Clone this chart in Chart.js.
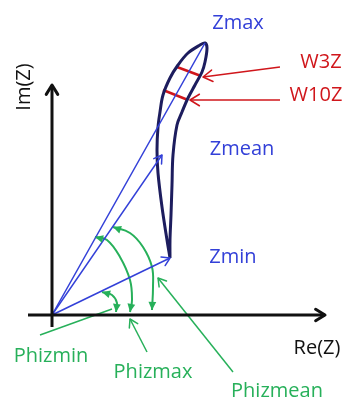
<!DOCTYPE html>
<html>
<head>
<meta charset="utf-8">
<script src="https://cdn.jsdelivr.net/npm/chart.js@4/dist/chart.umd.min.js"></script>
<style>
  html, body { margin: 0; padding: 0; background: #fff; }
  #wrap { width: 348px; height: 399px; }
</style>
</head>
<body>
<div id="wrap"><canvas id="nyquist"></canvas></div>
<script>
// impedance plane, units measured from the origin
const reAxis = [[-24, 0], [273, 0]];
const imAxis = [[0, -12], [0, 230]];

// impedance loop over one cycle: from Zmin up the left side, over Zmax, back down
const loopRe = [118, 115, 110, 106, 105, 106, 108, 111, 118, 126, 136, 148, 153, 155, 153, 150, 143, 136, 130, 125, 121, 120, 119, 118, 118];
const loopIm = [57, 75, 108, 142, 165, 188, 203, 220, 237, 250, 262, 270, 272, 267, 253, 243, 230, 217, 203, 190, 160, 130, 100, 75, 57];

const zMax = [153, 272];
const zMean = [110, 160];
const zMin = [118, 57];

// loop width at 3% and 10% below the tip
const w3z = [[125, 248], [149, 239]];
const w10z = [[111, 225], [136, 215]];
const w3zPointer = [[228, 248], [151, 238]];
const w10zPointer = [[228, 215], [138, 215]];

// phase arcs, from the vector down to the real axis
const phiMinArc = [[50, 23], [60, 20], [65, 12], [64, 3]];
const phiMaxArc = [[43, 78], [55, 75], [68, 58], [78, 35], [80, 15], [78, 3]];
const phiMeanArc = [[61, 88], [78, 82], [91, 68], [100, 48], [101, 28], [100, 5]];

const phiMinPointer = [[-12, -20], [60, 6]];
const phiMaxPointer = [[95, -37], [78, -4]];
const phiMeanPointer = [[181, -57], [106, 37]];

const labelText = ['Zmax', 'W3Z', 'W10Z', 'Zmean', 'Zmin', 'Re(Z)', 'Im(Z)', 'Phizmin', 'Phizmax', 'Phizmean'];
const labelAt = [[186, 292], [269, 253], [264, 220], [190, 166], [181, 58], [265, -33], [-28, 228], [-1, -41], [101, -57], [225, -76]];

const BLUE = '#3340d8';
const NAVY = '#1d1d5e';
const RED = '#d0161b';
const GREEN = '#27b05a';
const BLACK = '#111111';

const inkFor = {
  Zmax: BLUE, Zmean: BLUE, Zmin: BLUE,
  W3Z: RED, W10Z: RED,
  'Re(Z)': BLACK, 'Im(Z)': BLACK,
  Phizmin: GREEN, Phizmax: GREEN, Phizmean: GREEN
};

const pts = arr => arr.map(p => ({ x: p[0], y: p[1] }));
const vec = tip => [{ x: 0, y: 0 }, { x: tip[0], y: tip[1] }];

function seg(data, color, width, extra) {
  return Object.assign({
    data: data,
    showLine: true,
    borderColor: color,
    backgroundColor: color,
    borderWidth: width,
    pointRadius: 0,
    tension: 0
  }, extra || {});
}

const datasets = [
  seg(pts(reAxis), BLACK, 3, { arrowEnd: 'open', arrowSize: 11 }),
  seg(pts(imAxis), BLACK, 3, { arrowEnd: 'open', arrowSize: 11 }),
  seg(vec(zMax), BLUE, 1.5),
  seg(vec(zMean), BLUE, 1.5, { arrowEnd: 'open', arrowSize: 9 }),
  seg(vec(zMin), BLUE, 1.5, { arrowEnd: 'open', arrowSize: 9 }),
  seg(loopRe.map((x, i) => ({ x: x, y: loopIm[i] })), NAVY, 3, { tension: 0.35 }),
  seg(pts(w3z), RED, 2.5),
  seg(pts(w10z), RED, 2.5),
  seg(pts(w3zPointer), RED, 1.5, { arrowEnd: 'open', arrowSize: 11 }),
  seg(pts(w10zPointer), RED, 1.5, { arrowEnd: 'open', arrowSize: 11 }),
  seg(pts(phiMinArc), GREEN, 2, { tension: 0.4, arrowStart: 'filled', arrowEnd: 'filled', arrowSize: 9 }),
  seg(pts(phiMaxArc), GREEN, 2, { tension: 0.4, arrowStart: 'filled', arrowEnd: 'filled', arrowSize: 9 }),
  seg(pts(phiMeanArc), GREEN, 2, { tension: 0.4, arrowStart: 'filled', arrowEnd: 'filled', arrowSize: 9 }),
  seg(pts(phiMinPointer), GREEN, 1.5),
  seg(pts(phiMaxPointer), GREEN, 1.5, { arrowEnd: 'open', arrowSize: 9 }),
  seg(pts(phiMeanPointer), GREEN, 1.5, { arrowEnd: 'open', arrowSize: 9 })
];

function drawHead(ctx, tip, from, kind, size, color, width) {
  const a = Math.atan2(tip.y - from.y, tip.x - from.x);
  const spread = kind === 'filled' ? 0.45 : 0.55;
  ctx.save();
  ctx.strokeStyle = color;
  ctx.fillStyle = color;
  ctx.lineWidth = width;
  ctx.lineCap = 'round';
  ctx.lineJoin = 'round';
  ctx.beginPath();
  ctx.moveTo(tip.x - size * Math.cos(a - spread), tip.y - size * Math.sin(a - spread));
  ctx.lineTo(tip.x, tip.y);
  ctx.lineTo(tip.x - size * Math.cos(a + spread), tip.y - size * Math.sin(a + spread));
  if (kind === 'filled') {
    ctx.closePath();
    ctx.fill();
  } else {
    ctx.stroke();
  }
  ctx.restore();
}

const arrowHeads = {
  id: 'arrowHeads',
  afterDatasetsDraw(chart) {
    const ctx = chart.ctx;
    chart.data.datasets.forEach((ds, i) => {
      const p = chart.getDatasetMeta(i).data;
      const n = p.length;
      if (ds.arrowEnd) drawHead(ctx, p[n - 1], p[n - 2], ds.arrowEnd, ds.arrowSize, ds.borderColor, ds.borderWidth);
      if (ds.arrowStart) drawHead(ctx, p[0], p[1], ds.arrowStart, ds.arrowSize, ds.borderColor, ds.borderWidth);
    });
  }
};

const textLabels = {
  id: 'textLabels',
  afterDraw(chart) {
    const ctx = chart.ctx;
    const xs = chart.scales.x, ys = chart.scales.y;
    ctx.save();
    ctx.font = '20px "Open Sans", sans-serif';
    ctx.textAlign = 'center';
    ctx.textBaseline = 'middle';
    labelText.forEach((t, i) => {
      const px = xs.getPixelForValue(labelAt[i][0]);
      const py = ys.getPixelForValue(labelAt[i][1]);
      ctx.fillStyle = inkFor[t];
      if (t === 'Im(Z)') {
        ctx.save();
        ctx.translate(px, py);
        ctx.rotate(-Math.PI / 2);
        ctx.fillText(t, 0, 0);
        ctx.restore();
      } else {
        ctx.fillText(t, px, py);
      }
    });
    ctx.restore();
  }
};

new Chart(document.getElementById('nyquist'), {
  type: 'scatter',
  data: { datasets: datasets },
  options: {
    animation: false,
    responsive: true,
    maintainAspectRatio: false,
    layout: { padding: 0 },
    plugins: { legend: { display: false }, tooltip: { enabled: false } },
    scales: {
      x: { type: 'linear', min: -52, max: 296, display: false },
      y: { type: 'linear', min: -84, max: 315, display: false }
    }
  },
  plugins: [arrowHeads, textLabels]
});
</script>
</body>
</html>
